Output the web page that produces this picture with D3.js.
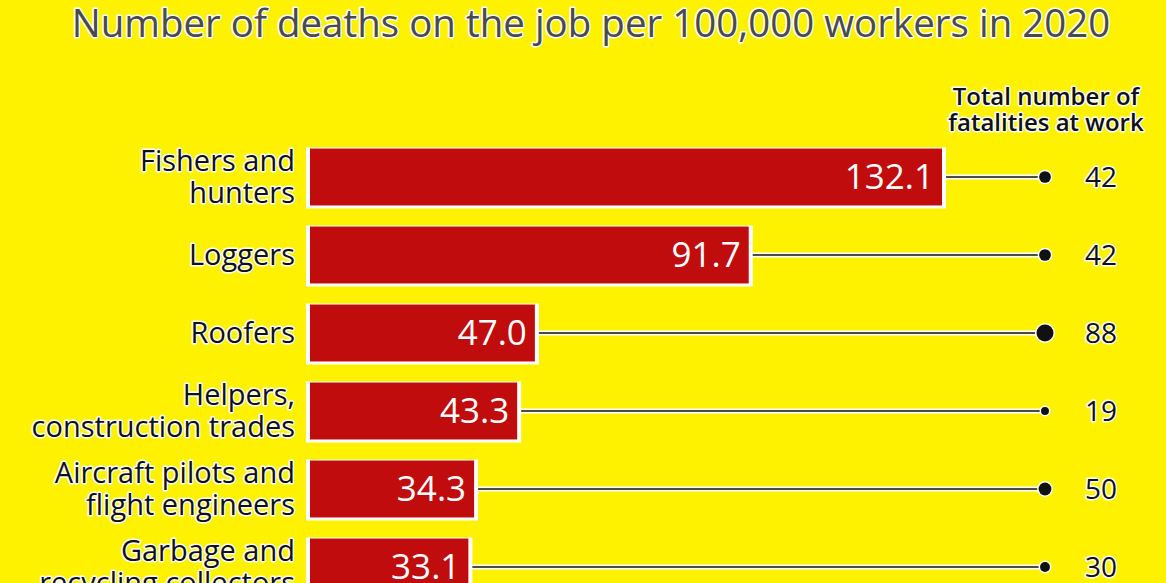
<!DOCTYPE html><html><head><meta charset="utf-8">
<script src="https://cdn.jsdelivr.net/npm/d3@7"></script>
<style>body{margin:0;background:#FFF200;overflow:hidden}text{font-family:"Open Sans",sans-serif}</style></head><body>
<svg id="c" width="1166" height="583"></svg>
<script>
const labels=[["Fishers and","hunters"],["Loggers"],["Roofers"],["Helpers,","construction trades"],["Aircraft pilots and","flight engineers"],["Garbage and","recycling collectors"]];
const rates=[132.1,91.7,47.0,43.3,34.3,33.1];
const totals=[42,42,88,19,50,30];
const svg=d3.select("#c");
svg.append("rect").attr("width",1166).attr("height",583).attr("fill","#FFF200");
const x=d3.scaleLinear().domain([0,132.1]).range([310,942]);
const y=d3.scaleBand().domain(d3.range(6)).range([138,606]).paddingInner(0.27).paddingOuter(0.135);
const r=d3.scaleSqrt().domain([0,88]).range([0,8.5]);
const halo=(s,w)=>s.attr("stroke","#fff").attr("stroke-width",w).attr("stroke-linejoin","round").attr("paint-order","stroke");
halo(svg.append("text").attr("x",591).attr("y",37).attr("text-anchor","middle").attr("font-size",38.5).attr("fill","#4a4a4a").text("Number of deaths on the job per 100,000 workers in 2020"),3);
const h=svg.append("text").attr("text-anchor","middle").attr("font-size",24).attr("font-weight",600).attr("fill","#111");
halo(h,3);
h.append("tspan").attr("x",1046).attr("y",105).text("Total number of");
h.append("tspan").attr("x",1046).attr("y",131).text("fatalities at work");
rates.forEach((v,i)=>{
 const cy=y(i)+y.bandwidth()/2;
 const g=svg.append("g");
 g.append("line").attr("x1",x(v)).attr("x2",1045).attr("y1",cy).attr("y2",cy).attr("stroke","#fff").attr("stroke-width",5);
 g.append("line").attr("x1",x(v)).attr("x2",1045).attr("y1",cy).attr("y2",cy).attr("stroke","#111").attr("stroke-width",1.5);
 g.append("rect").attr("x",x(0)-4).attr("y",y(i)-1).attr("width",x(v)-x(0)+8).attr("height",y.bandwidth()+4).attr("fill","#fff");
 g.append("rect").attr("x",x(0)).attr("y",y(i)).attr("width",x(v)-x(0)).attr("height",y.bandwidth()).attr("fill","#C00C0C");
 g.append("circle").attr("cx",1045).attr("cy",cy).attr("r",r(totals[i])+1.5).attr("fill","#fff");
 g.append("circle").attr("cx",1045).attr("cy",cy).attr("r",r(totals[i])).attr("fill","#111");
 g.append("text").attr("x",x(v)-8).attr("y",cy+12).attr("text-anchor","end").attr("font-size",35).attr("fill","#fff").text(d3.format(".1f")(v));
 halo(g.append("text").attr("x",1101).attr("y",cy+10).attr("text-anchor","middle").attr("font-size",28).attr("fill","#111").text(totals[i]),3);
 const t=g.append("text").attr("text-anchor","end").attr("font-size",29).attr("fill","#111");
 halo(t,3);
 const L=labels[i];
 L.forEach((s,j)=>t.append("tspan").attr("x",295).attr("y",cy+10+(j-(L.length-1)/2)*32).text(s));
});
</script></body></html>
